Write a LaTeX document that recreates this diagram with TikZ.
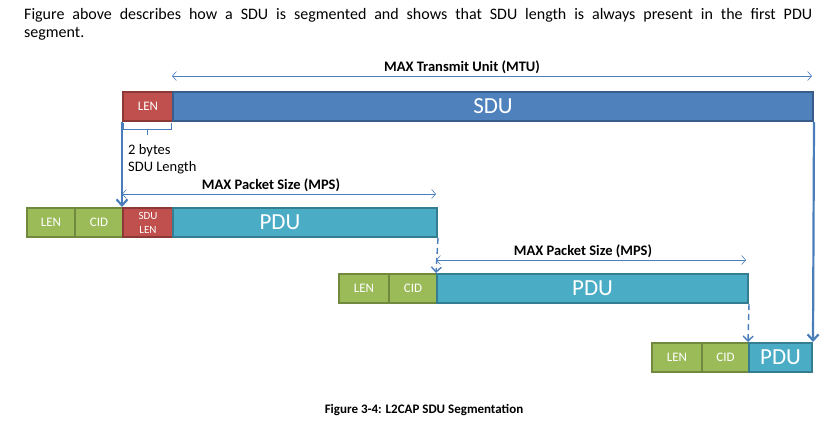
\documentclass[tikz,border=0pt]{standalone}
\usepackage{fontspec}
\setmainfont{Carlito}
\usetikzlibrary{arrows.meta,calc}
\definecolor{sdublue}{HTML}{4F81BD}
\definecolor{sduedge}{HTML}{385D8A}
\definecolor{lenred}{HTML}{C0504D}
\definecolor{rededge}{HTML}{8C3836}
\definecolor{cidgreen}{HTML}{9BBB59}
\definecolor{greenedge}{HTML}{71893F}
\definecolor{pduteal}{HTML}{4BACC6}
\definecolor{tealedge}{HTML}{357D91}
\definecolor{arrowblue}{HTML}{4A7EBB}
\tikzset{
  seg/.style={draw, line width=2pt, inner sep=0pt, anchor=north west, text=white, minimum height=29pt},
  redseg/.style={seg, fill=lenred, draw=rededge, font=\fontsize{13}{14}\selectfont},
  greenseg/.style={seg, fill=cidgreen, draw=greenedge, font=\fontsize{13}{14}\selectfont},
  tealseg/.style={seg, fill=pduteal, draw=tealedge, font=\fontsize{23}{25}\selectfont},
  bigseg/.style={seg, fill=sdublue, draw=sduedge, font=\fontsize{23}{25}\selectfont},
  bigtext/.style={text=white, inner sep=0pt, font=\fontsize{23}{25}\selectfont},
  span/.style={draw=arrowblue, line width=0.6pt, {Straight Barb[length=4pt,width=9pt]}-{Straight Barb[length=4pt,width=9pt]}},
  spanlabel/.style={font=\bfseries\fontsize{14.5}{16}\selectfont},
  drop/.style={draw=arrowblue, line width=2.2pt, -{Straight Barb[length=6pt,width=11pt,line width=2.2pt]}},
  dropdash/.style={draw=arrowblue, line width=1.4pt, dash pattern=on 6pt off 4pt, -{Straight Barb[length=5pt,width=10pt,line width=1.4pt]}},
  note/.style={anchor=base west, inner sep=0pt, font=\fontsize{14.5}{17}\selectfont},
}
\begin{document}
\begin{tikzpicture}[x=1pt,y=-1pt]
\useasboundingbox (0,0) rectangle (825,424);
% top paragraph
\node[anchor=north west, inner sep=0pt, text width=788pt, align=justify, font=\fontsize{16}{18}\selectfont] (intro) at (24,8)
  {Figure above describes how a SDU is segmented and shows that SDU length is always present in the first PDU\linebreak segment.};
% SDU bar
\node[redseg, minimum width=50pt] (slen) at (122,91) {LEN};
\node[bigseg, minimum width=640pt] (sdu) at (172,91) {SDU};
% MTU span
\coordinate (mtuL) at (172,76);
\coordinate (mtuR) at (812,76);
\draw[span] (mtuL) -- (mtuR);
\node[spanlabel] (mtulab) at (462,67) {MAX Transmit Unit (MTU)};
% brace
\coordinate (bA) at (123,123);
\coordinate (bB) at (123,129);
\coordinate (bC) at (171,129);
\coordinate (bD) at (171,123);
\coordinate (bM) at (147,129);
\coordinate (bN) at (147,135);
\draw[arrowblue, line width=0.8pt] (bA) -- (bB) -- (bC) -- (bD) (bM) -- (bN);
\node[note] (blab1) at (128,154) {2 bytes};
\node[note] (blab2) at (128,171) {SDU Length};
% Row 1
\node[greenseg, minimum width=48pt] (r1len) at (26,207) {LEN};
\node[greenseg, minimum width=48pt] (r1cid) at (74,207) {CID};
\node[redseg, minimum width=50pt, align=center, font=\fontsize{11}{14}\selectfont] (r1sdu) at (122,207) {SDU\\LEN};
\node[tealseg, minimum width=264pt] (r1pdu) at (172,207) {};
\node[bigtext] (r1pdutext) at ($(r1sdu.west)!0.5!(r1pdu.east)$) {PDU};
% MPS 1
\coordinate (m1L) at (122,194);
\coordinate (m1R) at (436,194);
\draw[span] (m1L) -- (m1R);
\node[spanlabel] (m1lab) at (271,185) {MAX Packet Size (MPS)};
% Row 2
\node[greenseg, minimum width=50pt] (r2len) at (338,273) {LEN};
\node[greenseg, minimum width=48pt] (r2cid) at (388,273) {CID};
\node[tealseg, minimum width=311pt] (r2pdu) at (436,273) {PDU};
% MPS 2
\coordinate (m2L) at (436,260);
\coordinate (m2R) at (746,260);
\draw[span] (m2L) -- (m2R);
\node[spanlabel] (m2lab) at (583,251) {MAX Packet Size (MPS)};
% Row 3
\node[greenseg, minimum width=50pt] (r3len) at (651,342) {LEN};
\node[greenseg, minimum width=47pt] (r3cid) at (701,342) {CID};
\node[tealseg, minimum width=63pt] (r3pdu) at (748,342) {PDU};
% drops
\draw[drop] (slen.south west) -- (r1sdu.north west);
\draw[dropdash] (r1pdu.south east) -- (r2pdu.north west);
\draw[dropdash] (r2pdu.south east) -- (r3pdu.north west);
\draw[drop] (sdu.south east) -- (r3pdu.north east);
% caption
\node[font=\bfseries\fontsize{13}{15}\selectfont] (cap) at (424,410) {Figure 3-4: L2CAP SDU Segmentation};
\end{tikzpicture}
\end{document}
